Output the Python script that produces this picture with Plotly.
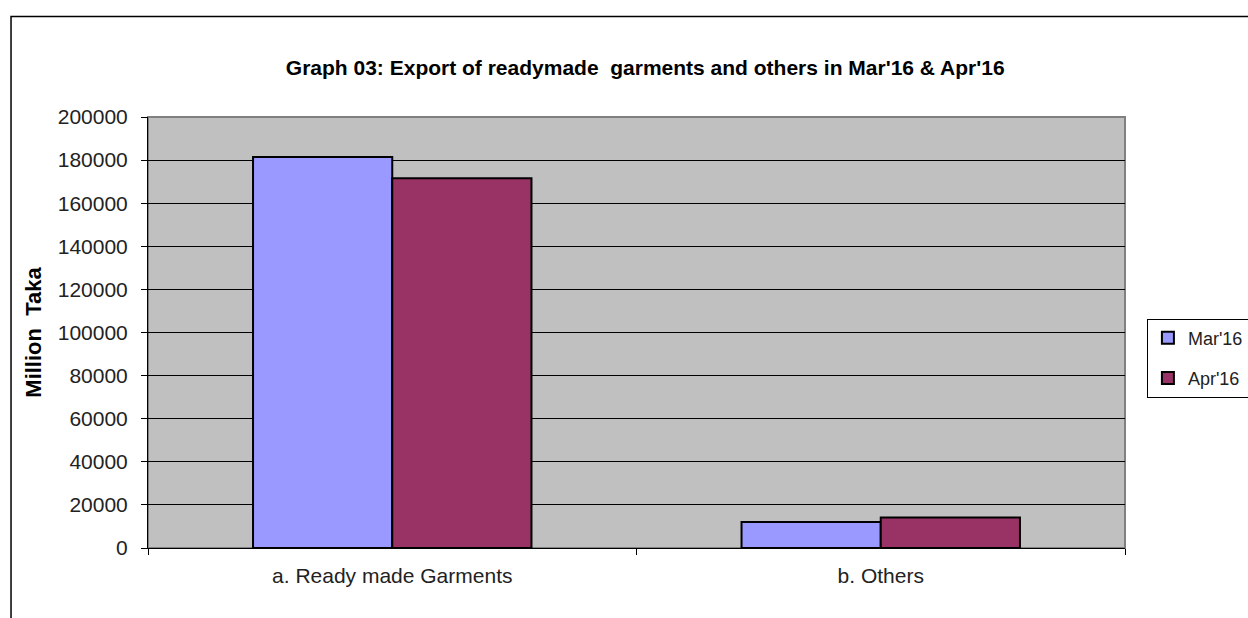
import plotly.graph_objects as go

categories = ["a. Ready made Garments", "b. Others"]
mar16 = [181400, 12100]
apr16 = [171600, 14200]
yticks = [0, 20000, 40000, 60000, 80000, 100000, 120000, 140000, 160000, 180000, 200000]

FONT = "Liberation Sans, Arial, sans-serif"

fig = go.Figure()
fig.add_bar(name="Mar'16", x=categories, y=mar16, legendgroup="a",
            marker=dict(color="#9999FF", line=dict(color="black", width=2)))
fig.add_bar(name="Apr'16", x=categories, y=apr16, legendgroup="b",
            marker=dict(color="#993366", line=dict(color="black", width=2)))

fig.update_layout(
    width=1248, height=618,
    margin=dict(l=148, r=123, t=117, b=70),
    paper_bgcolor="white", plot_bgcolor="#C0C0C0",
    barmode="group", bargap=0.43, bargroupgap=0,
    font=dict(family=FONT, size=21, color="#222"),
    title=dict(text="<b>Graph 03: Export of readymade  garments and others in Mar'16 & Apr'16</b>",
               x=0.517, xanchor="center", y=0.89, yanchor="middle",
               font=dict(family=FONT, size=21, color="black")),
    legend=dict(xref="container", yref="container", x=0.919, xanchor="left",
                y=0.4207, yanchor="middle",
                bordercolor="black", borderwidth=1, bgcolor="white",
                font=dict(family=FONT, size=18, color="#222"),
                itemwidth=30, tracegroupgap=14),
    showlegend=True,
)
fig.update_xaxes(showgrid=False, showline=True, linecolor="black", linewidth=1,
                 ticks="outside", tickson="boundaries", ticklen=6, tickcolor="black",
                 ticklabelstandoff=9,
                 tickfont=dict(family=FONT, size=21, color="#222"))
fig.update_yaxes(range=[0, 200000], tickvals=yticks, ticktext=[str(v) for v in yticks],
                 showgrid=True, gridcolor="black", gridwidth=1,
                 showline=True, linecolor="black", linewidth=1,
                 ticks="outside", ticklen=6, tickcolor="black", zeroline=False,
                 ticklabelstandoff=9,
                 tickfont=dict(family=FONT, size=21, color="#222"),
                 title=dict(text="<b>Million  Taka</b>", standoff=10,
                            font=dict(family=FONT, size=22, color="black")))

# plot area gray border (top/right)
fig.add_shape(type="rect", xref="paper", yref="paper", x0=0, y0=0, x1=1, y1=1,
              line=dict(color="#808080", width=2), layer="below")
# outer frame
fig.add_shape(type="rect", xref="paper", yref="paper", x0=-0.1402, y0=-0.2, x1=1.2, y1=1.2332,
              line=dict(color="black", width=1.5))

fig.write_html("out.html", config={"displayModeBar": False},
               post_script="document.body.style.margin='0';document.body.style.overflow='hidden';")
